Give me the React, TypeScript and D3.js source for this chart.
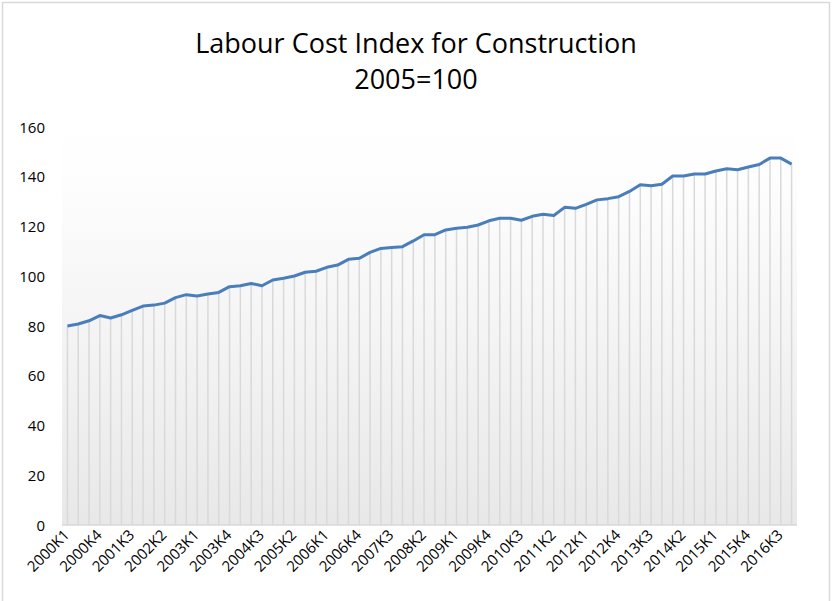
import React from "react";
import * as d3 from "d3";

const quarters: string[] = [];
for (let y = 2000; y <= 2016; y++) for (let q = 1; q <= 4; q++) quarters.push(`${y}K${q}`);

const values: number[] = [
  80.0, 80.8, 82.1, 84.2, 83.2, 84.5, 86.3, 88.0, 88.4, 89.2,
  91.4, 92.6, 92.1, 92.9, 93.5, 95.8, 96.2, 97.1, 96.2, 98.5,
  99.2, 100.1, 101.6, 102.0, 103.6, 104.5, 106.8, 107.2, 109.6, 111.2,
  111.6, 111.9, 114.2, 116.7, 116.7, 118.6, 119.3, 119.7, 120.6, 122.3,
  123.3, 123.3, 122.5, 124.1, 124.9, 124.4, 127.7, 127.3, 128.9, 130.7,
  131.2, 132.0, 134.1, 136.8, 136.4, 137.0, 140.3, 140.3, 141.1, 141.1,
  142.3, 143.2, 142.8, 143.9, 144.9, 147.5, 147.5, 145.1,
];

const yTicks: number[] = [0, 20, 40, 60, 80, 100, 120, 140, 160];
const titleLines: string[] = ["Labour Cost Index for Construction", "2005=100"];

const W = 832, H = 601;
const plotL = 62, plotR = 797, plotT = 127, plotB = 525;
const FONT = "'Open Sans', 'Noto Sans', sans-serif";

export default function App() {
  const x = d3.scaleBand<string>().domain(quarters).range([plotL, plotR]).padding(0);
  const y = d3.scaleLinear().domain([0, 160]).range([plotB, plotT]);
  const cx = (q: string) => (x(q) as number) + x.bandwidth() / 2;
  const line = d3.line<number>().x((_, i) => cx(quarters[i])).y((v) => y(v));
  const labelQs = quarters.filter((_, i) => i % 3 === 0);

  return (
    <svg width={W} height={H} style={{ position: "absolute", left: 0, top: 0, background: "#fff" }}>
      <defs>
        <linearGradient id="bg" x1="0" y1="0" x2="0" y2="1">
          <stop offset="0%" stopColor="#ffffff" />
          <stop offset="15%" stopColor="#fdfdfd" />
          <stop offset="100%" stopColor="#e8e8e8" />
        </linearGradient>
      </defs>
      <rect x={0} y={0} width={W} height={H} fill="#fff" />
      <rect x={2.5} y={2.5} width={827} height={640} fill="none" stroke="#d9d9d9" strokeWidth={1.5} />
      {titleLines.map((t, i) => (
        <text key={t} x={416} y={53 + i * 36} textAnchor="middle" fontFamily={FONT} fontSize={27} fill="#000">
          {t}
        </text>
      ))}
      <rect x={plotL} y={plotT} width={plotR - plotL} height={plotB - plotT} fill="url(#bg)" />
      {values.map((v, i) => (
        <line key={i} x1={cx(quarters[i])} x2={cx(quarters[i])} y1={y(v)} y2={plotB} stroke="#d9d9d9" strokeWidth={1.5} />
      ))}
      <line x1={plotL} x2={plotR} y1={plotB} y2={plotB} stroke="#d9d9d9" strokeWidth={1.5} />
      {yTicks.map((t) => (
        <text key={t} x={45} y={y(t) + 5.5} textAnchor="end" fontFamily={FONT} fontSize={15} fill="#000">
          {t}
        </text>
      ))}
      {labelQs.map((q) => (
        <text
          key={q}
          transform={`translate(${cx(q) + 3},${plotB + 11}) rotate(-45)`}
          textAnchor="end"
          fontFamily={FONT}
          fontSize={15}
          fill="#000"
        >
          {q}
        </text>
      ))}
      <path d={line(values) || ""} fill="none" stroke="#4a7ebb" strokeWidth={3} strokeLinejoin="round" />
    </svg>
  );
}
